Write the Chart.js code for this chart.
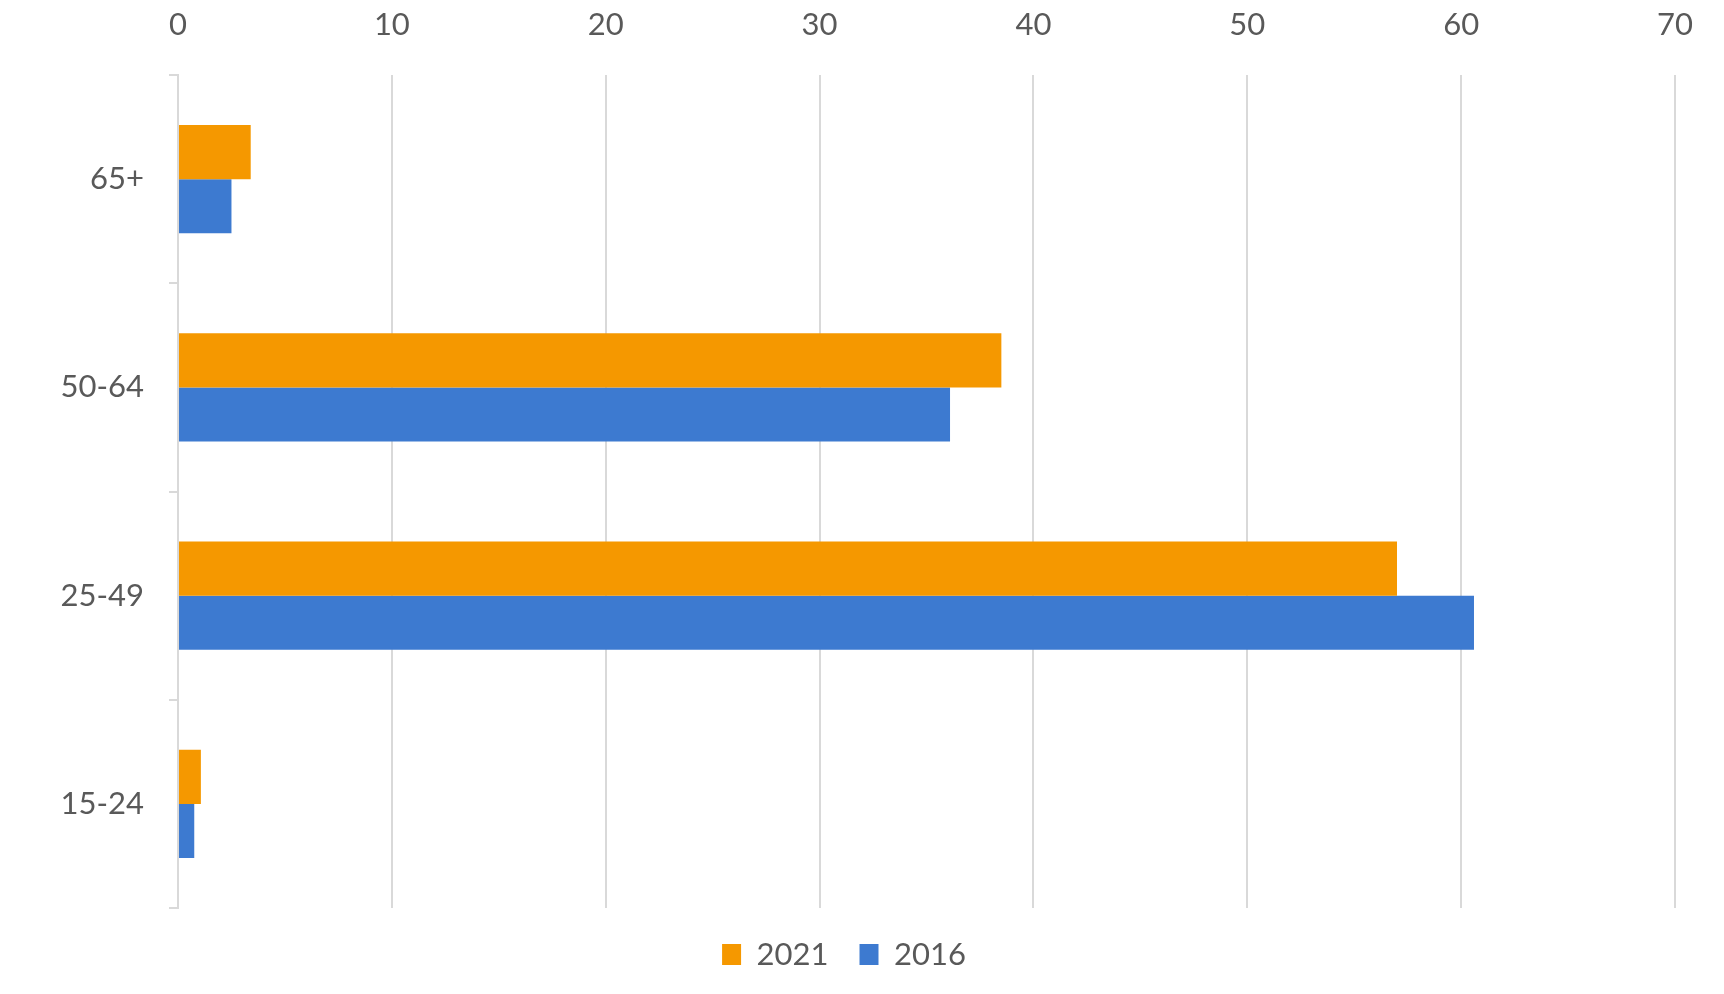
<!DOCTYPE html>
<html>
<head>
<meta charset="utf-8">
<script src="https://cdn.jsdelivr.net/npm/chart.js@4.4.1/dist/chart.umd.min.js"></script>
<style>
  html, body { margin: 0; padding: 0; background: #fff; }
  #wrap { width: 1724px; height: 994px; }
</style>
</head>
<body>
<div id="wrap"><canvas id="bar"></canvas></div>
<script>
// age groups, top to bottom
const ageGroups = ['65+', '50-64', '25-49', '15-24'];
const values2021 = [3.4, 38.5, 57.0, 1.07];
const values2016 = [2.5, 36.1, 60.6, 0.76];
const xTicks = [0, 10, 20, 30, 40, 50, 60, 70];

const textColor = '#595959';
const gridColor = '#d9d9d9';
const fontFamily = 'Lato, "Open Sans", sans-serif';

const ctx = document.getElementById('bar').getContext('2d');
const chart = new Chart(ctx, {
  type: 'bar',
  data: {
    labels: ageGroups,
    datasets: [
      { label: '2021', data: values2021, backgroundColor: '#f59800' },
      { label: '2016', data: values2016, backgroundColor: '#3d7ad0' },
    ],
  },
  options: {
    indexAxis: 'y',
    responsive: true,
    maintainAspectRatio: false,
    animation: false,
    layout: { padding: { left: 0, right: 36, top: 0, bottom: 14 } },
    datasets: { bar: { categoryPercentage: 0.52, barPercentage: 1.0 } },
    scales: {
      x: {
        position: 'top',
        min: xTicks[0],
        max: xTicks[xTicks.length - 1],
        afterFit: (scale) => { scale.height = 75; },
        afterBuildTicks: (scale) => { scale.ticks = xTicks.map(v => ({ value: v })); },
        ticks: { color: textColor, font: { family: fontFamily, size: 31 }, padding: 31 },
        grid: { color: gridColor, lineWidth: 2, drawTicks: false },
        border: { display: false },
      },
      y: {
        afterFit: (scale) => { scale.width = 178; },
        ticks: { color: textColor, font: { family: fontFamily, size: 31 }, padding: 25 },
        grid: { drawOnChartArea: false, drawTicks: true, tickLength: 9, color: gridColor, lineWidth: 2 },
        border: { display: true, color: gridColor, width: 2 },
      },
    },
    plugins: {
      legend: {
        position: 'bottom',
        labels: {
          color: textColor,
          font: { family: fontFamily, size: 31 },
          boxWidth: 19,
          boxHeight: 21,
          padding: 31,
        },
      },
      tooltip: { enabled: false },
    },
  },
});
</script>
</body>
</html>
